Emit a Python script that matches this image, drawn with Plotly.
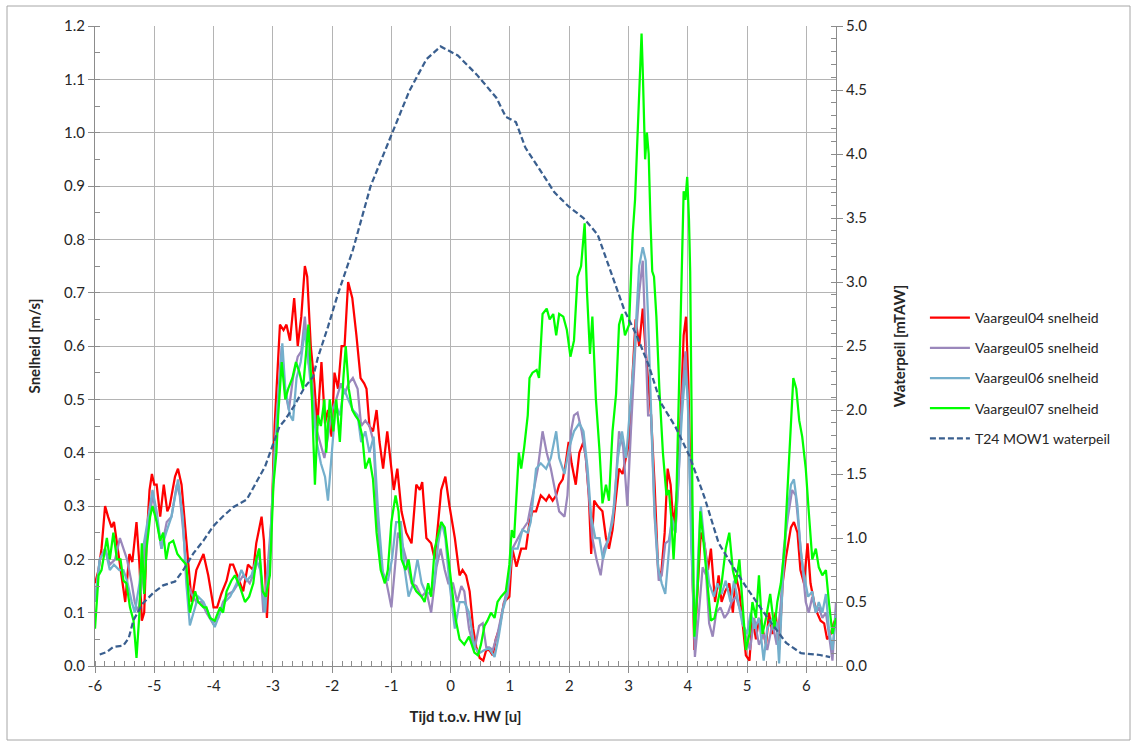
import plotly.graph_objects as go

# ---------------- data ----------------
# time relative to high water [h], speed [m/s]
VAARGEUL04 = [(-6.0,0.155),(-5.94,0.18),(-5.89,0.22),(-5.83,0.30),(-5.78,0.28),(-5.72,0.26),(-5.68,0.27),(-5.63,0.23),(-5.58,0.19),(-5.52,0.15),(-5.49,0.12),(-5.46,0.16),(-5.42,0.21),(-5.37,0.195),(-5.30,0.27),(-5.25,0.19),(-5.21,0.085),(-5.17,0.10),(-5.13,0.235),(-5.08,0.33),(-5.04,0.36),(-5.0,0.34),(-4.96,0.34),(-4.9,0.28),(-4.84,0.34),(-4.78,0.29),(-4.74,0.30),(-4.65,0.355),(-4.6,0.37),(-4.54,0.34),(-4.48,0.26),(-4.43,0.185),(-4.37,0.12),(-4.29,0.18),(-4.17,0.21),(-4.09,0.17),(-4.0,0.11),(-3.94,0.11),(-3.87,0.135),(-3.78,0.16),(-3.72,0.19),(-3.67,0.19),(-3.58,0.165),(-3.5,0.14),(-3.42,0.19),(-3.33,0.18),(-3.28,0.23),(-3.19,0.28),(-3.15,0.235),(-3.1,0.09),(-3.02,0.28),(-2.97,0.45),
(-2.88,0.64),(-2.82,0.63),(-2.77,0.64),(-2.71,0.61),(-2.64,0.69),(-2.58,0.60),(-2.52,0.655),(-2.46,0.75),(-2.42,0.73),(-2.36,0.60),(-2.30,0.53),(-2.25,0.45),(-2.18,0.57),(-2.12,0.455),(-2.07,0.48),(-2.01,0.43),(-1.96,0.55),(-1.9,0.52),(-1.84,0.60),(-1.79,0.60),(-1.73,0.72),(-1.66,0.69),(-1.59,0.62),(-1.52,0.54),(-1.46,0.53),(-1.42,0.52),(-1.37,0.45),(-1.31,0.44),(-1.25,0.48),(-1.2,0.42),(-1.14,0.37),(-1.07,0.44),(-1.0,0.37),(-0.96,0.33),(-0.9,0.37),(-0.83,0.29),(-0.75,0.25),(-0.66,0.23),(-0.58,0.34),(-0.52,0.33),(-0.48,0.345),(-0.41,0.24),(-0.33,0.23),(-0.27,0.20),(-0.21,0.27),(-0.16,0.33),(-0.09,0.355),(-0.02,0.30),(0.07,0.24),
(0.15,0.17),(0.2,0.18),(0.26,0.17),(0.32,0.14),(0.38,0.07),(0.43,0.036),(0.49,0.015),(0.55,0.01),(0.6,0.03),(0.65,0.03),(0.71,0.02),(0.76,0.05),(0.82,0.07),(0.9,0.12),(0.99,0.13),(1.04,0.22),(1.11,0.186),(1.19,0.22),(1.27,0.22),(1.33,0.27),(1.38,0.29),(1.44,0.29),(1.52,0.32),(1.61,0.31),(1.66,0.32),(1.72,0.31),(1.78,0.32),(1.83,0.34),(1.89,0.35),(1.94,0.38),(1.99,0.42),(2.04,0.38),(2.11,0.34),(2.17,0.40),(2.24,0.42),(2.28,0.39),(2.33,0.32),(2.37,0.21),(2.42,0.31),(2.48,0.30),(2.56,0.29),(2.62,0.24),(2.67,0.22),(2.73,0.255),(2.78,0.31),(2.84,0.37),(2.9,0.36),(2.96,0.39),(3.01,0.42),(3.07,0.55),(3.12,0.65),(3.18,0.60),(3.24,0.67),(3.29,0.59),(3.33,0.53),(3.38,0.47),(3.44,0.34),(3.5,0.18),(3.55,0.17),(3.61,0.25),(3.66,0.37),(3.71,0.34),(3.76,0.26),(3.82,0.33),(3.88,0.47),(3.93,0.62),(3.97,0.655),(4.01,0.53),(4.07,0.22),(4.11,0.03),(4.17,0.155),(4.22,0.25),(4.28,0.23),(4.34,0.18),(4.39,0.22),(4.46,0.12),(4.52,0.17),(4.57,0.12),(4.63,0.14),(4.7,0.155),(4.76,0.10),(4.81,0.17),(4.87,0.14),(4.92,0.09),(4.98,0.02),(5.04,0.01),(5.09,0.09),(5.15,0.05),(5.2,0.09),(5.26,0.07),(5.32,0.04),(5.37,0.10),(5.43,0.06),(5.48,0.10),(5.54,0.03),(5.6,0.155),(5.65,0.20),(5.74,0.26),(5.79,0.27),(5.85,0.25),(5.9,0.18),(5.96,0.155),(6.02,0.23),(6.07,0.155),(6.13,0.12),(6.18,0.10),(6.24,0.085),(6.3,0.08),(6.35,0.05),(6.41,0.06),(6.46,0.08),(6.5,0.09)]

VAARGEUL05 = [(-6.0,0.12),(-5.92,0.20),(-5.83,0.22),(-5.75,0.19),(-5.66,0.20),(-5.58,0.24),(-5.52,0.22),(-5.46,0.20),(-5.38,0.155),(-5.33,0.12),(-5.27,0.10),(-5.21,0.155),(-5.16,0.22),(-5.08,0.285),(-5.02,0.32),(-4.96,0.28),(-4.88,0.22),(-4.79,0.27),(-4.71,0.28),(-4.62,0.34),(-4.57,0.32),(-4.51,0.25),(-4.44,0.155),(-4.37,0.135),(-4.29,0.12),(-4.2,0.12),(-4.12,0.10),(-4.01,0.08),(-3.92,0.09),(-3.84,0.12),(-3.75,0.135),(-3.67,0.14),(-3.58,0.155),(-3.5,0.17),(-3.39,0.155),(-3.3,0.18),(-3.23,0.22),(-3.16,0.10),(-3.11,0.155),(-3.02,0.28),(-2.94,0.46),
(-2.85,0.60),(-2.8,0.52),(-2.73,0.48),(-2.66,0.54),(-2.58,0.58),(-2.52,0.59),(-2.46,0.655),(-2.4,0.57),(-2.34,0.54),(-2.28,0.45),(-2.21,0.42),(-2.13,0.39),(-2.07,0.43),(-2.0,0.48),(-1.93,0.50),(-1.85,0.53),(-1.79,0.51),(-1.72,0.53),(-1.65,0.54),(-1.57,0.52),(-1.51,0.45),(-1.44,0.46),(-1.37,0.45),(-1.3,0.42),(-1.24,0.28),(-1.17,0.185),(-1.08,0.155),(-1.0,0.11),(-0.94,0.185),(-0.89,0.25),(-0.82,0.23),(-0.75,0.20),(-0.66,0.155),(-0.58,0.15),(-0.49,0.13),(-0.41,0.14),(-0.33,0.10),(-0.24,0.185),(-0.17,0.22),(-0.1,0.18),(-0.04,0.155),(0.04,0.155),(0.11,0.12),
(0.18,0.15),(0.23,0.14),(0.31,0.07),(0.4,0.03),(0.48,0.075),(0.54,0.08),(0.6,0.035),(0.65,0.035),(0.71,0.03),(0.79,0.06),(0.88,0.11),(0.96,0.15),(1.04,0.22),(1.13,0.24),(1.21,0.255),(1.3,0.27),(1.38,0.32),(1.47,0.37),(1.55,0.44),(1.62,0.40),(1.69,0.37),(1.78,0.32),(1.83,0.29),(1.92,0.28),(1.97,0.32),(2.03,0.44),(2.08,0.47),(2.14,0.475),(2.21,0.44),(2.28,0.39),(2.34,0.30),(2.39,0.24),(2.46,0.20),(2.53,0.17),(2.59,0.22),(2.67,0.24),(2.76,0.30),(2.84,0.44),(2.91,0.41),(2.98,0.30),(3.04,0.44),(3.12,0.61),(3.18,0.70),(3.24,0.76),(3.29,0.60),(3.33,0.47),(3.38,0.47),(3.44,0.28),(3.51,0.16),(3.56,0.17),(3.62,0.23),(3.68,0.235),(3.73,0.27),(3.79,0.25),(3.84,0.34),(3.9,0.50),(3.96,0.59),(4.0,0.50),(4.06,0.25),(4.12,0.017),(4.18,0.09),(4.25,0.185),(4.31,0.17),(4.36,0.08),(4.42,0.055),(4.48,0.10),(4.55,0.11),(4.62,0.09),(4.68,0.10),(4.74,0.12),(4.81,0.13),(4.9,0.10),(4.98,0.055),(5.05,0.03),(5.12,0.09),(5.2,0.04),(5.28,0.06),(5.34,0.03),(5.43,0.08),(5.5,0.04),(5.57,0.12),(5.62,0.22),(5.69,0.28),(5.76,0.33),(5.82,0.32),(5.88,0.25),(5.93,0.18),(5.99,0.12),(6.04,0.10),(6.1,0.13),(6.16,0.10),(6.21,0.11),(6.27,0.09),(6.33,0.10),(6.38,0.06),(6.44,0.01),(6.5,0.12)]

VAARGEUL06 = [(-6.0,0.12),(-5.92,0.20),(-5.83,0.22),(-5.75,0.18),(-5.68,0.19),(-5.59,0.18),(-5.52,0.18),(-5.46,0.16),(-5.38,0.12),(-5.33,0.10),(-5.25,0.155),(-5.19,0.22),(-5.1,0.28),(-5.03,0.33),(-4.96,0.29),(-4.88,0.22),(-4.8,0.25),(-4.71,0.28),(-4.63,0.33),(-4.6,0.35),(-4.52,0.28),(-4.46,0.155),(-4.4,0.076),(-4.34,0.10),(-4.26,0.13),(-4.17,0.12),(-4.09,0.10),(-3.98,0.073),(-3.89,0.10),(-3.81,0.12),(-3.72,0.13),(-3.61,0.155),(-3.53,0.18),(-3.44,0.16),(-3.36,0.17),(-3.28,0.20),(-3.21,0.18),(-3.13,0.10),(-3.05,0.22),(-2.97,0.40),
(-2.91,0.50),(-2.84,0.605),(-2.79,0.52),(-2.71,0.47),(-2.66,0.46),(-2.6,0.54),(-2.53,0.57),(-2.46,0.63),(-2.4,0.57),(-2.34,0.51),(-2.26,0.42),(-2.19,0.38),(-2.12,0.355),(-2.07,0.31),(-2.01,0.40),(-1.94,0.49),(-1.87,0.47),(-1.8,0.52),(-1.73,0.50),(-1.65,0.48),(-1.57,0.47),(-1.51,0.42),(-1.44,0.44),(-1.37,0.40),(-1.3,0.43),(-1.22,0.28),(-1.14,0.17),(-1.06,0.16),(-0.99,0.20),(-0.92,0.27),(-0.84,0.27),(-0.78,0.185),(-0.71,0.13),(-0.63,0.155),(-0.56,0.20),(-0.49,0.155),(-0.43,0.14),(-0.35,0.135),(-0.28,0.155),(-0.21,0.23),(-0.15,0.27),(-0.09,0.24),(-0.02,0.155),(0.07,0.07),(0.15,0.12),
(0.23,0.12),(0.31,0.10),(0.4,0.036),(0.48,0.024),(0.57,0.03),(0.65,0.033),(0.74,0.017),(0.81,0.055),(0.88,0.105),(0.96,0.136),(1.04,0.22),(1.13,0.22),(1.21,0.255),(1.3,0.25),(1.35,0.27),(1.44,0.37),(1.52,0.38),(1.61,0.37),(1.69,0.39),(1.78,0.44),(1.83,0.39),(1.92,0.36),(2.0,0.41),(2.08,0.44),(2.17,0.455),(2.24,0.44),(2.31,0.37),(2.37,0.28),(2.44,0.24),(2.51,0.24),(2.57,0.20),(2.65,0.235),(2.73,0.27),(2.82,0.39),(2.89,0.44),(2.96,0.39),(3.02,0.47),(3.1,0.59),(3.18,0.75),(3.24,0.785),(3.29,0.76),(3.33,0.655),(3.38,0.48),(3.44,0.29),(3.5,0.185),(3.56,0.155),(3.62,0.135),(3.68,0.22),(3.73,0.28),(3.79,0.25),(3.84,0.34),(3.9,0.47),(3.96,0.555),(4.0,0.50),(4.06,0.22),(4.12,0.05),(4.18,0.22),(4.22,0.30),(4.29,0.22),(4.36,0.155),(4.44,0.13),(4.5,0.155),(4.57,0.135),(4.64,0.16),(4.72,0.12),(4.78,0.16),(4.85,0.12),(4.92,0.08),(5.0,0.06),(5.06,0.10),(5.13,0.07),(5.2,0.09),(5.28,0.01),(5.34,0.07),(5.43,0.09),(5.5,0.08),(5.54,0.005),(5.6,0.155),(5.67,0.28),(5.74,0.34),(5.79,0.35),(5.85,0.30),(5.9,0.22),(5.96,0.17),(6.03,0.13),(6.1,0.14),(6.16,0.10),(6.21,0.12),(6.27,0.10),(6.33,0.135),(6.38,0.07),(6.44,0.03),(6.5,0.10)]

VAARGEUL07 = [(-6.0,0.07),(-5.94,0.17),(-5.89,0.18),(-5.8,0.24),(-5.75,0.20),(-5.69,0.25),(-5.63,0.20),(-5.57,0.20),(-5.52,0.16),(-5.47,0.155),(-5.41,0.11),(-5.35,0.085),(-5.3,0.015),(-5.25,0.10),(-5.21,0.23),(-5.17,0.135),(-5.13,0.22),(-5.07,0.28),(-5.03,0.30),(-4.96,0.27),(-4.9,0.235),(-4.85,0.25),(-4.8,0.20),(-4.75,0.23),(-4.68,0.235),(-4.61,0.21),(-4.54,0.20),(-4.46,0.19),(-4.4,0.10),(-4.31,0.14),(-4.26,0.12),(-4.17,0.11),(-4.12,0.11),(-4.06,0.09),(-3.98,0.085),(-3.89,0.11),(-3.84,0.10),(-3.78,0.14),(-3.7,0.16),(-3.64,0.17),(-3.56,0.15),(-3.47,0.12),(-3.4,0.13),(-3.33,0.155),(-3.28,0.20),(-3.23,0.22),(-3.17,0.14),(-3.12,0.13),(-3.05,0.17),(-2.99,0.34),(-2.94,0.40),
(-2.91,0.47),(-2.85,0.57),(-2.79,0.50),(-2.74,0.52),(-2.67,0.54),(-2.61,0.57),(-2.55,0.55),(-2.49,0.52),(-2.45,0.57),(-2.4,0.64),(-2.35,0.53),(-2.29,0.34),(-2.24,0.47),(-2.19,0.45),(-2.13,0.50),(-2.1,0.40),(-2.04,0.50),(-1.98,0.44),(-1.93,0.50),(-1.87,0.42),(-1.81,0.54),(-1.77,0.60),(-1.72,0.52),(-1.66,0.48),(-1.61,0.47),(-1.55,0.46),(-1.49,0.43),(-1.44,0.37),(-1.37,0.39),(-1.31,0.35),(-1.25,0.25),(-1.18,0.18),(-1.11,0.155),(-1.06,0.18),(-1.0,0.27),(-0.93,0.32),(-0.88,0.29),(-0.83,0.20),(-0.76,0.18),(-0.71,0.20),(-0.65,0.155),(-0.58,0.14),(-0.49,0.13),(-0.44,0.12),(-0.38,0.155),(-0.33,0.13),(-0.27,0.22),(-0.21,0.25),(-0.16,0.27),(-0.1,0.26),(-0.04,0.20),(0.01,0.155),(0.08,0.09),(0.15,0.05),
(0.23,0.04),(0.31,0.055),(0.4,0.025),(0.46,0.02),(0.51,0.04),(0.57,0.075),(0.62,0.085),(0.68,0.10),(0.74,0.09),(0.79,0.12),(0.85,0.13),(0.93,0.14),(0.99,0.19),(1.03,0.255),(1.07,0.24),(1.11,0.32),(1.15,0.40),(1.19,0.37),(1.24,0.41),(1.3,0.47),(1.33,0.54),(1.38,0.55),(1.45,0.555),(1.49,0.54),(1.55,0.66),(1.62,0.67),(1.67,0.65),(1.73,0.66),(1.78,0.62),(1.83,0.66),(1.9,0.655),(1.96,0.63),(2.02,0.58),(2.08,0.61),(2.14,0.73),(2.2,0.75),(2.26,0.83),(2.3,0.70),(2.35,0.585),(2.39,0.655),(2.45,0.50),(2.51,0.405),(2.56,0.305),(2.62,0.34),(2.67,0.31),(2.73,0.44),(2.79,0.51),(2.84,0.64),(2.89,0.66),(2.94,0.62),(3.01,0.64),(3.07,0.81),(3.11,0.874),(3.14,0.96),(3.19,1.117),(3.22,1.186),(3.24,1.117),(3.27,0.99),(3.28,0.95),(3.31,1.0),(3.34,0.96),(3.37,0.836),(3.4,0.74),(3.43,0.73),(3.47,0.655),(3.52,0.52),(3.58,0.40),(3.64,0.32),(3.68,0.33),(3.72,0.28),(3.76,0.20),(3.8,0.28),(3.84,0.47),(3.89,0.655),(3.93,0.89),(3.96,0.874),(3.99,0.917),(4.02,0.836),(4.04,0.74),(4.08,0.30),(4.11,0.055),(4.17,0.155),(4.21,0.29),(4.25,0.25),(4.31,0.18),(4.39,0.085),(4.45,0.09),(4.5,0.12),(4.57,0.155),(4.64,0.22),(4.7,0.25),(4.76,0.18),(4.81,0.155),(4.87,0.20),(4.92,0.12),(4.98,0.03),(5.04,0.06),(5.09,0.12),(5.15,0.09),(5.2,0.17),(5.26,0.06),(5.32,0.09),(5.39,0.135),(5.46,0.07),(5.51,0.12),(5.57,0.155),(5.63,0.22),(5.68,0.33),(5.74,0.47),(5.78,0.54),(5.83,0.52),(5.88,0.46),(5.93,0.43),(5.99,0.37),(6.04,0.29),(6.1,0.20),(6.16,0.22),(6.21,0.185),(6.27,0.17),(6.33,0.18),(6.38,0.12),(6.44,0.06),(6.5,0.09)]

# time [h], water level [mTAW]
T24_MOW1_WATERPEIL = [(-5.92,0.09),(-5.8,0.11),(-5.69,0.15),(-5.52,0.16),(-5.43,0.22),(-5.35,0.36),(-5.19,0.49),(-5.02,0.57),(-4.85,0.63),(-4.65,0.66),(-4.51,0.75),(-4.34,0.88),(-4.17,0.98),(-4.01,1.09),(-3.84,1.17),(-3.67,1.24),(-3.44,1.30),(-3.28,1.43),(-3.13,1.56),(-2.99,1.74),(-2.89,1.87),(-2.8,1.92),(-2.63,2.04),(-2.46,2.18),(-2.32,2.26),(-2.24,2.41),(-2.07,2.65),(-1.9,2.91),(-1.73,3.14),(-1.65,3.25),(-1.35,3.75),(-0.98,4.17),(-0.70,4.49),(-0.41,4.74),(-0.17,4.84),(0.12,4.77),(0.44,4.62),(0.77,4.44),(0.93,4.29),(1.1,4.25),(1.26,4.05),(1.5,3.88),(1.75,3.70),(1.99,3.59),(2.24,3.50),(2.48,3.37),(2.73,3.04),(2.93,2.78),(3.14,2.58),(3.34,2.35),(3.54,2.06),(3.79,1.87),(4.03,1.64),(4.28,1.32),(4.52,0.96),(4.77,0.77),(5.01,0.60),(5.34,0.38),(5.66,0.18),(5.91,0.10),(6.23,0.086),(6.4,0.07)]

SERIES_NAMES = ["Vaargeul04 snelheid", "Vaargeul05 snelheid", "Vaargeul06 snelheid",
                "Vaargeul07 snelheid", "T24 MOW1 waterpeil"]
X_TICKS = [-6, -5, -4, -3, -2, -1, 0, 1, 2, 3, 4, 5, 6]

# ---------------- styling ----------------
FONT = "Lato, 'Open Sans', sans-serif"
TXT = "#262626"
GRID = "#b4b4b4"
AXIS = "#8c8c8c"

speed_series = [VAARGEUL04, VAARGEUL05, VAARGEUL06, VAARGEUL07]
speed_colors = ["#ff0000", "#9a87bb", "#74afcc", "#00ff00"]

fig = go.Figure()
for i, (ser, col) in enumerate(zip(speed_series, speed_colors)):
    fig.add_trace(go.Scatter(
        x=[p[0] for p in ser], y=[p[1] for p in ser], mode="lines",
        name=SERIES_NAMES[i], legendgroup=f"g{i}",
        line=dict(color=col, width=2.25)))

fig.add_trace(go.Scatter(
    x=[p[0] for p in T24_MOW1_WATERPEIL], y=[p[1] for p in T24_MOW1_WATERPEIL],
    mode="lines", name=SERIES_NAMES[4], legendgroup="g4", yaxis="y2",
    line=dict(color="#3a5f8f", width=2.25, dash="6px,3px")))

tickfont = dict(family=FONT, size=15, color=TXT)
titlefont = dict(family=FONT, size=15, color=TXT, weight="bold")

fig.update_layout(
    width=1136, height=742,
    margin=dict(l=95, r=300, t=26, b=76),
    paper_bgcolor="white", plot_bgcolor="white",
    font=dict(family=FONT, color=TXT),
    xaxis=dict(
        range=[-6, 6.5], tickmode="array", tickvals=X_TICKS,
        ticktext=[str(v) for v in X_TICKS],
        showgrid=True, gridcolor=GRID, gridwidth=1, zeroline=False,
        showline=True, linecolor=AXIS, linewidth=1,
        ticks="outside", ticklen=6, tickcolor=AXIS,
        minor=dict(dtick=1/6, tick0=-6, ticks="inside", ticklen=5, tickcolor=AXIS, showgrid=False),
        tickfont=tickfont,
        title=dict(text="Tijd t.o.v. HW [u]", font=titlefont, standoff=18)),
    yaxis=dict(
        range=[0, 1.2], dtick=0.1, tick0=0, tickformat=".1f",
        showgrid=True, gridcolor=GRID, gridwidth=1, zeroline=False,
        showline=True, linecolor=AXIS, linewidth=1, mirror=False,
        ticks="outside", ticklen=6, tickcolor=AXIS,
        minor=dict(dtick=0.05, ticks="inside", ticklen=5, tickcolor=AXIS, showgrid=False),
        tickfont=tickfont,
        title=dict(text="Snelheid [m/s]", font=titlefont, standoff=19)),
    yaxis2=dict(
        range=[0, 5], dtick=0.5, tick0=0, tickformat=".1f",
        overlaying="y", side="right", showgrid=False, zeroline=False,
        showline=True, linecolor=AXIS, linewidth=1,
        ticks="outside", ticklen=6, tickcolor=AXIS,
        minor=dict(dtick=0.1, ticks="inside", ticklen=5, tickcolor=AXIS),
        tickfont=tickfont,
        title=dict(text="Waterpeil [mTAW]", font=titlefont, standoff=28)),
    legend=dict(
        x=1.12, y=0.45, xanchor="left", yanchor="middle",
        font=dict(family=FONT, size=14, color=TXT),
        bgcolor="rgba(0,0,0,0)", borderwidth=0, itemwidth=40,
        tracegroupgap=9, traceorder="grouped"),
    showlegend=True,
    shapes=[dict(type="rect", xref="paper", yref="paper",
                 x0=(7-95)/741, x1=(1130-95)/741, y0=(666-740)/640, y1=(666-6)/640,
                 line=dict(color="#a6a6a6", width=1), fillcolor="rgba(0,0,0,0)", layer="below")],
)

fig.write_html("out.html")
